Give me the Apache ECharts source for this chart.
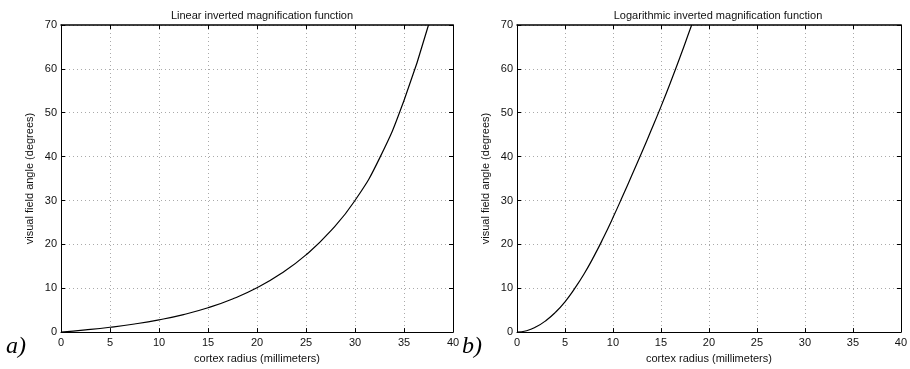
<!DOCTYPE html>
<html>
<head>
<meta charset="utf-8">
<script src="https://cdn.jsdelivr.net/npm/echarts@6/dist/echarts.min.js"></script>
<style>
  html, body { margin: 0; padding: 0; background: #fff; }
  #chart { width: 910px; height: 369px; }
</style>
</head>
<body>
<div id="chart"></div>
<script>
// values
var linearX = [0, 2.5, 5, 7.5, 10, 12.5, 15, 17.5, 20, 22.5, 25, 27.5, 30, 32.5, 35, 37.5];
var linearY = [0, 0.5, 1.1, 1.85, 2.8, 4.0, 5.55, 7.55, 10.1, 13.4, 17.6, 23.0, 30.0, 39.6, 52.8, 70];

var logX = [0, 1, 2, 3, 4, 5, 6, 7, 8, 9, 10, 11, 12, 13, 14, 15, 16, 17, 18, 18.2];
var logY = [0, 0.3, 1.2, 2.6, 4.5, 6.9, 9.9, 13.3, 17.2, 21.5, 26.1, 30.95, 35.9, 40.95, 46.1, 51.4, 56.95, 62.75, 68.8, 70];

var xTicks = [0, 5, 10, 15, 20, 25, 30, 35, 40];
var yTicks = [0, 10, 20, 30, 40, 50, 60, 70];

var titles = ['Linear inverted magnification function', 'Logarithmic inverted magnification function'];
var xName = 'cortex radius (millimeters)';
var yName = 'visual field angle (degrees)';

function pairs(xs, ys) {
  return xs.map(function (x, i) { return [x, ys[i]]; });
}

var font = 'Liberation Sans, Arial, sans-serif';
var grids = [
  { left: 61, right: 457, top: 25, bottom: 36 },
  { left: 517, right: 1, top: 25, bottom: 36 }
];

var xAxes = [], yAxes = [];
grids.forEach(function (g, i) {
  // main bottom / left axes
  xAxes.push({
    type: 'value', gridIndex: i, min: xTicks[0], max: xTicks[xTicks.length - 1], interval: 5,
    name: xName, nameLocation: 'middle', nameGap: 20,
    nameTextStyle: { fontFamily: font, fontSize: 11, color: '#111' },
    axisLine: { lineStyle: { color: '#000', width: 1 } },
    axisTick: { inside: true, length: 4, lineStyle: { color: '#000' } },
    axisLabel: { fontFamily: font, fontSize: 11, color: '#111', margin: 5 },
    splitLine: { show: true, lineStyle: { color: '#aaa', type: [1, 3], width: 1 } }
  });
  yAxes.push({
    type: 'value', gridIndex: i, min: yTicks[0], max: yTicks[yTicks.length - 1], interval: 10,
    name: yName, nameLocation: 'middle', nameGap: 26, nameRotate: 90,
    nameTextStyle: { fontFamily: font, fontSize: 11, color: '#111' },
    axisLine: { show: true, lineStyle: { color: '#000', width: 1 } },
    axisTick: { show: true, inside: true, length: 4, lineStyle: { color: '#000' } },
    axisLabel: { fontFamily: font, fontSize: 11, color: '#111', margin: 4 },
    splitLine: { show: true, lineStyle: { color: '#aaa', type: [1, 3], width: 1 } }
  });
  // box: top and right axes with inward ticks
  xAxes.push({
    type: 'value', gridIndex: i, position: 'top', min: 0, max: 40, interval: 5,
    axisLine: { onZero: false, lineStyle: { color: '#000', width: 1.5 } },
    axisTick: { inside: true, length: 4, lineStyle: { color: '#000' } },
    axisLabel: { show: false }, splitLine: { show: false }
  });
  yAxes.push({
    type: 'value', gridIndex: i, position: 'right', min: 0, max: 70, interval: 10,
    axisLine: { show: true, onZero: false, lineStyle: { color: '#000', width: 1 } },
    axisTick: { show: true, inside: true, length: 4, lineStyle: { color: '#000' } },
    axisLabel: { show: false }, splitLine: { show: false }
  });
});

var chart = echarts.init(document.getElementById('chart'));
chart.setOption({
  animation: false,
  backgroundColor: '#fff',
  title: [
    { text: titles[0], left: 257, top: 5, textAlign: 'center',
      textStyle: { fontFamily: font, fontSize: 11, fontWeight: 'normal', color: '#111' } },
    { text: titles[1], left: 713, top: 5, textAlign: 'center',
      textStyle: { fontFamily: font, fontSize: 11, fontWeight: 'normal', color: '#111' } }
  ],
  grid: grids,
  xAxis: xAxes,
  yAxis: yAxes,
  series: [
    { type: 'line', xAxisIndex: 0, yAxisIndex: 0, data: pairs(linearX, linearY),
      smooth: 0.5, showSymbol: false, lineStyle: { color: '#000', width: 1.2 } },
    { type: 'line', xAxisIndex: 2, yAxisIndex: 2, data: pairs(logX, logY),
      smooth: 0.5, showSymbol: false, lineStyle: { color: '#000', width: 1.2 } }
  ],
  graphic: [
    { type: 'text', left: 6, top: 335,
      style: { text: 'a)', font: 'italic 24px "Liberation Serif", "DejaVu Serif", serif', fill: '#000' } },
    { type: 'text', left: 462, top: 335,
      style: { text: 'b)', font: 'italic 24px "Liberation Serif", "DejaVu Serif", serif', fill: '#000' } }
  ]
});
</script>
</body>
</html>
